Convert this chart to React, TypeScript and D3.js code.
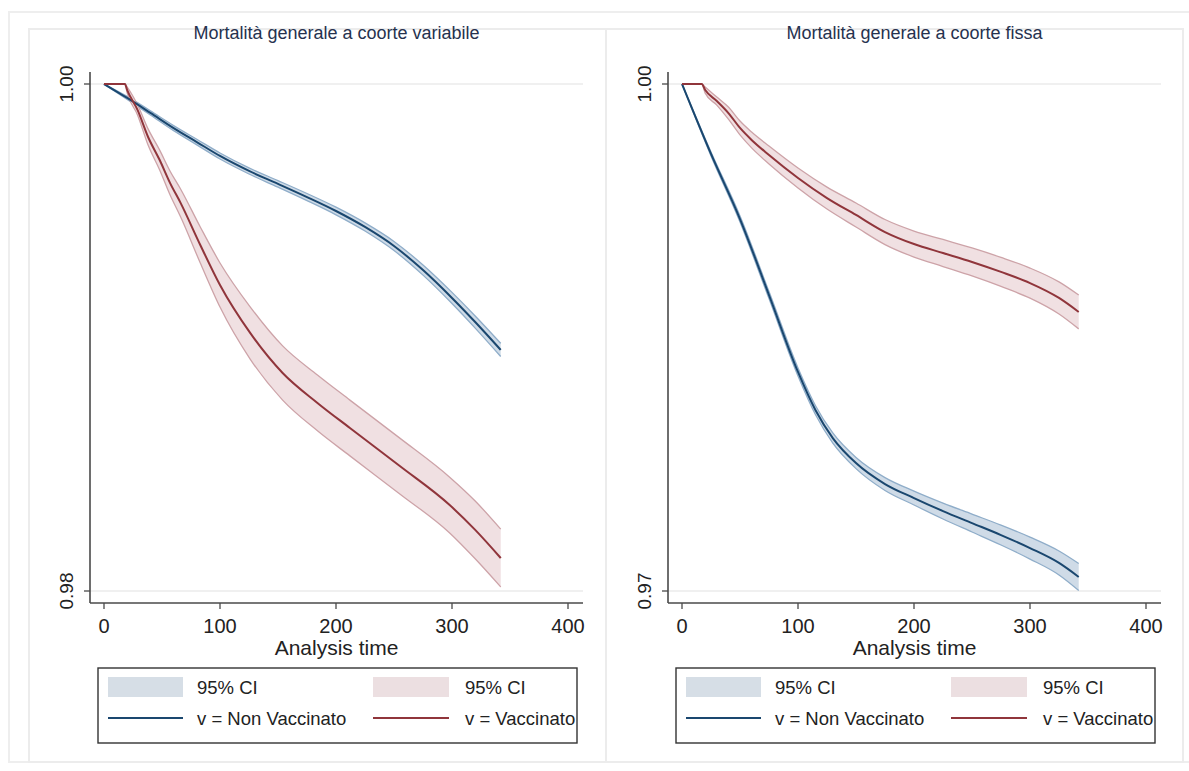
import React from "react";
import * as d3 from "d3";

// ---- Data: Kaplan–Meier survival estimates with 95% CI ----
const TIME_TICKS = [0, 100, 200, 300, 400];

// Panel 1: "Mortalità generale a coorte variabile"
const varNonVaxTime = [0, 20, 40, 60, 80, 100, 125, 150, 175, 200, 225, 250, 275, 300, 320, 342];
const varNonVaxS = [1.0, 0.99945, 0.99886, 0.99826, 0.99771, 0.99716, 0.99657, 0.99606, 0.99554, 0.99499, 0.99436, 0.99361, 0.99266, 0.99156, 0.99061, 0.98951];
const varNonVaxLo = [1.0, 0.99939, 0.99878, 0.99816, 0.9976, 0.99704, 0.99645, 0.99593, 0.9954, 0.99484, 0.9942, 0.99343, 0.99246, 0.99134, 0.99037, 0.98925];
const varNonVaxHi = [1.0, 0.99951, 0.99894, 0.99836, 0.99782, 0.99728, 0.99669, 0.99619, 0.99568, 0.99514, 0.99452, 0.99379, 0.99286, 0.99178, 0.99085, 0.98977];

const varVaxTime = [0, 18, 20, 29, 38, 48, 57, 66, 83, 100, 126, 154, 184, 212, 255, 298, 320, 342];
const varVaxS = [1, 1, 0.99976, 0.99897, 0.99791, 0.997, 0.99609, 0.99531, 0.99365, 0.99207, 0.99018, 0.9886, 0.98742, 0.98643, 0.98493, 0.98339, 0.98241, 0.9813];
const varVaxLo = [1, 1, 0.99964, 0.99877, 0.99759, 0.99661, 0.99562, 0.99476, 0.99294, 0.9912, 0.98915, 0.98753, 0.98632, 0.98533, 0.98383, 0.98229, 0.98127, 0.98016];
const varVaxHi = [1, 1, 0.99988, 0.99917, 0.99823, 0.99739, 0.99656, 0.99586, 0.99436, 0.99294, 0.99121, 0.98967, 0.98852, 0.98753, 0.98603, 0.98449, 0.98355, 0.98244];

// Panel 2: "Mortalità generale a coorte fissa"
const fixNonVaxTime = [0, 25, 50, 75, 100, 115, 130, 150, 175, 200, 225, 250, 275, 300, 325, 342];
const fixNonVaxS = [1, 0.99586, 0.99201, 0.98751, 0.98296, 0.98071, 0.97905, 0.97757, 0.97633, 0.9755, 0.97473, 0.97402, 0.97331, 0.97254, 0.97166, 0.97083];
const fixNonVaxLo = [1, 0.99574, 0.99183, 0.9873, 0.98272, 0.98044, 0.97875, 0.97724, 0.97595, 0.97509, 0.97426, 0.97349, 0.97272, 0.97189, 0.97095, 0.97003];
const fixNonVaxHi = [1, 0.99598, 0.99219, 0.98772, 0.9832, 0.98098, 0.97935, 0.9779, 0.97671, 0.97591, 0.9752, 0.97455, 0.9739, 0.97319, 0.97237, 0.97163];

const fixVaxTime = [0, 17, 20, 30, 40, 50, 60, 75, 100, 125, 150, 175, 200, 225, 250, 275, 300, 325, 342];
const fixVaxS = [1, 1, 0.99964, 0.99899, 0.99828, 0.9974, 0.99669, 0.9958, 0.99444, 0.99325, 0.99225, 0.99124, 0.99053, 0.99, 0.98947, 0.98888, 0.98822, 0.98734, 0.98651];
const fixVaxLo = [1, 1, 0.99946, 0.99875, 0.99792, 0.99699, 0.99622, 0.99527, 0.99385, 0.9926, 0.99154, 0.9905, 0.98976, 0.9892, 0.98864, 0.98802, 0.98733, 0.98639, 0.98551];
const fixVaxHi = [1, 1, 0.99982, 0.99923, 0.99864, 0.99781, 0.99716, 0.99633, 0.99503, 0.9939, 0.99296, 0.99198, 0.9913, 0.9908, 0.9903, 0.98974, 0.98911, 0.98829, 0.98751];

const PANEL_TITLES = ["Mortalità generale a coorte variabile", "Mortalità generale a coorte fissa"];
const Y_TICKS_VAR = [0.98, 1.0];
const Y_TICKS_FIX = [0.97, 1.0];
const LEGEND_LABELS = ["95% CI", "95% CI", "v = Non Vaccinato", "v = Vaccinato"];
const X_TITLE = "Analysis time";

// ---- Styling ----
const FONT = "'Liberation Sans', Arial, Helvetica, sans-serif";
const NAVY = "#1a476f";
const MAROON = "#90353b";
const NAVY_FILL = "#cfdbe7";
const NAVY_EDGE = "#8fadc9";
const MAROON_FILL = "#f0e0e2";
const MAROON_EDGE = "#cda3a8";
const LEG_NAVY = "#d6dee6";
const LEG_MAROON = "#ecdfe1";

type Series = { time: number[]; s: number[]; lo: number[]; hi: number[] };

type PanelProps = {
  left: number; // x of the y-axis line
  title: string;
  yDomain: [number, number];
  yTicks: number[];
  nonVax: Series;
  vax: Series;
};

const Panel: React.FC<PanelProps> = ({ left, title, yDomain, yTicks, nonVax, vax }) => {
  const axisLeft = left;
  const axisRight = left + 493;
  const top = 72;
  const bottom = 603;
  const x = d3.scaleLinear().domain([0, 400]).range([left + 14, left + 478]);
  const y = d3.scaleLinear().domain(yDomain).range([591, 84]);
  const curve = d3.curveMonotoneX;

  const band = (sr: Series) =>
    d3
      .area<number>()
      .curve(curve)
      .x((_, i) => x(sr.time[i]))
      .y0((_, i) => y(sr.lo[i]))
      .y1((_, i) => y(sr.hi[i]))(sr.time) || "";
  const edge = (sr: Series, key: "lo" | "hi" | "s") =>
    d3
      .line<number>()
      .curve(curve)
      .x((_, i) => x(sr.time[i]))
      .y((_, i) => y(sr[key][i]))(sr.time) || "";

  const cx = (axisLeft + axisRight) / 2;
  const legX = left + 8;
  const legW = 479;

  return (
    <g>
      <text x={cx} y={39} textAnchor="middle" fontSize={18} fill="#26324f" fontFamily={FONT}>
        {title}
      </text>
      {/* gridlines */}
      {yTicks.map((t) => (
        <line key={"g" + t} x1={axisLeft} x2={axisRight} y1={y(t)} y2={y(t)} stroke="#ebebeb" strokeWidth={1.5} />
      ))}
      {/* confidence bands */}
      <path d={band(nonVax)} fill={NAVY_FILL} />
      <path d={edge(nonVax, "lo")} fill="none" stroke={NAVY_EDGE} strokeWidth={1.3} />
      <path d={edge(nonVax, "hi")} fill="none" stroke={NAVY_EDGE} strokeWidth={1.3} />
      <path d={band(vax)} fill={MAROON_FILL} />
      <path d={edge(vax, "lo")} fill="none" stroke={MAROON_EDGE} strokeWidth={1.3} />
      <path d={edge(vax, "hi")} fill="none" stroke={MAROON_EDGE} strokeWidth={1.3} />
      {/* survival curves */}
      <path d={edge(nonVax, "s")} fill="none" stroke={NAVY} strokeWidth={2} />
      <path d={edge(vax, "s")} fill="none" stroke={MAROON} strokeWidth={2} />
      {/* axes */}
      <line x1={axisLeft} x2={axisLeft} y1={top} y2={bottom} stroke="#4a4a4a" strokeWidth={1.6} />
      <line x1={axisLeft} x2={axisRight} y1={bottom} y2={bottom} stroke="#4a4a4a" strokeWidth={1.6} />
      {yTicks.map((t) => (
        <g key={"yt" + t}>
          <line x1={axisLeft - 6} x2={axisLeft} y1={y(t)} y2={y(t)} stroke="#4a4a4a" strokeWidth={1.3} />
          <text
            transform={`translate(${axisLeft - 17},${y(t)}) rotate(-90)`}
            textAnchor="middle"
            fontSize={19}
            fill="#222"
            fontFamily={FONT}
          >
            {d3.format(".2f")(t)}
          </text>
        </g>
      ))}
      {TIME_TICKS.map((t) => (
        <g key={"xt" + t}>
          <line x1={x(t)} x2={x(t)} y1={bottom} y2={bottom + 6} stroke="#4a4a4a" strokeWidth={1.3} />
          <text x={x(t)} y={633} textAnchor="middle" fontSize={20} fill="#222" fontFamily={FONT}>
            {t}
          </text>
        </g>
      ))}
      <text x={cx} y={655} textAnchor="middle" fontSize={21} fill="#222" fontFamily={FONT}>
        {X_TITLE}
      </text>
      {/* legend */}
      <rect x={legX} y={668} width={legW} height={75} fill="#fff" stroke="#333" strokeWidth={1.4} />
      <rect x={legX + 10} y={677} width={75} height={20} fill={LEG_NAVY} />
      <rect x={legX + 275} y={677} width={76} height={20} fill={LEG_MAROON} />
      <line x1={legX + 10} x2={legX + 85} y1={718} y2={718} stroke={NAVY} strokeWidth={1.8} />
      <line x1={legX + 275} x2={legX + 351} y1={718} y2={718} stroke={MAROON} strokeWidth={1.8} />
      <text x={legX + 99} y={687} dominantBaseline="central" fontSize={18.5} fill="#222" fontFamily={FONT}>
        {LEGEND_LABELS[0]}
      </text>
      <text x={legX + 367} y={687} dominantBaseline="central" fontSize={18.5} fill="#222" fontFamily={FONT}>
        {LEGEND_LABELS[1]}
      </text>
      <text x={legX + 99} y={718} dominantBaseline="central" fontSize={18.5} fill="#222" fontFamily={FONT}>
        {LEGEND_LABELS[2]}
      </text>
      <text x={legX + 367} y={718} dominantBaseline="central" fontSize={18.5} fill="#222" fontFamily={FONT}>
        {LEGEND_LABELS[3]}
      </text>
    </g>
  );
};

export default function App() {
  const varNonVax: Series = { time: varNonVaxTime, s: varNonVaxS, lo: varNonVaxLo, hi: varNonVaxHi };
  const varVax: Series = { time: varVaxTime, s: varVaxS, lo: varVaxLo, hi: varVaxHi };
  const fixNonVax: Series = { time: fixNonVaxTime, s: fixNonVaxS, lo: fixNonVaxLo, hi: fixNonVaxHi };
  const fixVax: Series = { time: fixVaxTime, s: fixVaxS, lo: fixVaxLo, hi: fixVaxHi };

  return (
    <svg
      width={1189}
      height={771}
      style={{ position: "absolute", left: 0, top: 0, background: "#fff" }}
      xmlns="http://www.w3.org/2000/svg"
    >
      <rect x={0} y={0} width={1189} height={771} fill="#fff" />
      {/* outer and panel frames */}
      <rect x={9} y={12} width={1185} height={750} fill="none" stroke="#eeeeee" strokeWidth={2} />
      <rect x={29} y={29} width={577} height={733} fill="none" stroke="#ececec" strokeWidth={2} />
      <rect x={606} y={29} width={577} height={733} fill="none" stroke="#ececec" strokeWidth={2} />
      <Panel
        left={90}
        title={PANEL_TITLES[0]}
        yDomain={[0.98, 1.0]}
        yTicks={Y_TICKS_VAR}
        nonVax={varNonVax}
        vax={varVax}
      />
      <Panel
        left={668}
        title={PANEL_TITLES[1]}
        yDomain={[0.97, 1.0]}
        yTicks={Y_TICKS_FIX}
        nonVax={fixNonVax}
        vax={fixVax}
      />
    </svg>
  );
}
